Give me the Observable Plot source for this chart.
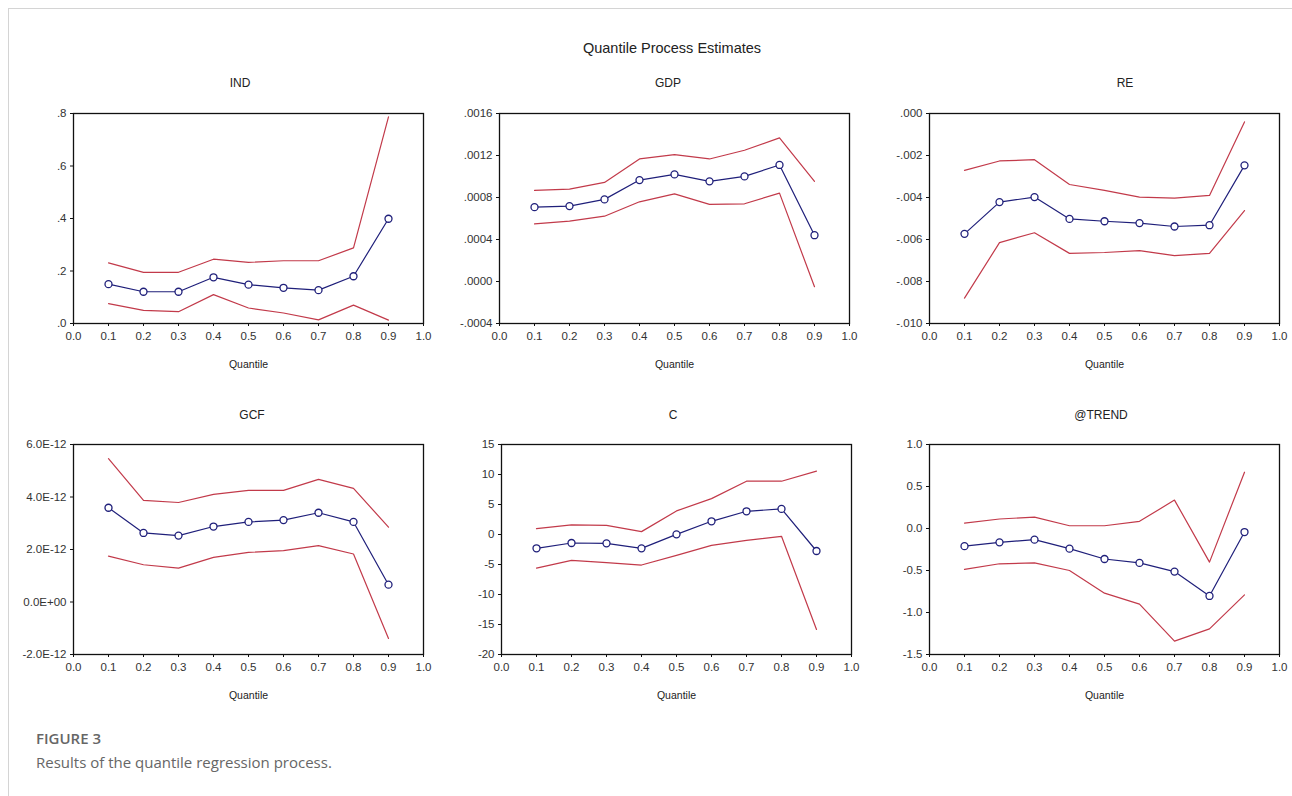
<!DOCTYPE html>
<html>
<head>
<meta charset="utf-8">
<script src="https://cdn.jsdelivr.net/npm/d3@7"></script>
<script src="https://cdn.jsdelivr.net/npm/@observablehq/plot@0.6"></script>
<style>
  html, body { margin: 0; padding: 0; background: #fff; }
  body { width: 1292px; height: 796px; overflow: hidden; position: relative; font-family: "Liberation Sans", Arial, sans-serif; }
  .bt { position: absolute; left: 8px; top: 8px; width: 1284px; height: 1px; background: #d4d4d4; }
  .bl { position: absolute; left: 8px; top: 8px; width: 1px; height: 788px; background: #d4d4d4; }
  .ttl { position: absolute; transform: translate(-50%, -50%); white-space: nowrap; color: #222;
         font-family: "Liberation Sans Narrow", "Liberation Sans", Arial, sans-serif; }
  .panel { position: absolute; }
  .cap1 { position: absolute; left: 36px; top: 728px; font-family: "Open Sans", "Noto Sans", sans-serif; font-weight: 600; font-size: 15px; color: #666; }
  .cap2 { position: absolute; left: 36px; top: 752px; font-family: "Open Sans", "Noto Sans", sans-serif; font-size: 15px; color: #666; }
</style>
</head>
<body>
<div class="bt"></div><div class="bl"></div>
<div id="root"></div>
<div class="cap1">FIGURE 3</div>
<div class="cap2">Results of the quantile regression process.</div>
<script>
// ---------- data ----------
const quantiles = [0.1, 0.2, 0.3, 0.4, 0.5, 0.6, 0.7, 0.8, 0.9];
const mainTitle = "Quantile Process Estimates";
const panelNames = ["IND", "GDP", "RE", "GCF", "C", "@TREND"];
const xLabelText = "Quantile";

const indEst   = [0.150, 0.121, 0.121, 0.176, 0.148, 0.136, 0.127, 0.180, 0.399];
const indUpper = [0.231, 0.195, 0.195, 0.245, 0.233, 0.239, 0.239, 0.288, 0.787];
const indLower = [0.076, 0.050, 0.045, 0.110, 0.059, 0.040, 0.014, 0.070, 0.013];

const gdpEst   = [0.000708, 0.000718, 0.000782, 0.000966, 0.001020, 0.000954, 0.001001, 0.001110, 0.000441];
const gdpUpper = [0.000867, 0.000880, 0.000944, 0.001167, 0.001208, 0.001167, 0.001250, 0.001368, 0.000954];
const gdpLower = [0.000549, 0.000575, 0.000622, 0.000759, 0.000835, 0.000734, 0.000740, 0.000842, -0.000050];

const reEst   = [-0.00573, -0.00422, -0.00398, -0.00502, -0.00513, -0.00522, -0.00538, -0.00532, -0.00247];
const reUpper = [-0.00271, -0.00226, -0.00220, -0.00338, -0.00366, -0.00398, -0.00403, -0.00390, -0.00040];
const reLower = [-0.00879, -0.00615, -0.00568, -0.00666, -0.00662, -0.00653, -0.00677, -0.00666, -0.00462];

const gcfEst   = [3.59e-12, 2.63e-12, 2.53e-12, 2.875e-12, 3.05e-12, 3.12e-12, 3.40e-12, 3.05e-12, 0.66e-12];
const gcfUpper = [5.46e-12, 3.87e-12, 3.79e-12, 4.10e-12, 4.25e-12, 4.25e-12, 4.67e-12, 4.33e-12, 2.85e-12];
const gcfLower = [1.75e-12, 1.42e-12, 1.29e-12, 1.70e-12, 1.89e-12, 1.96e-12, 2.15e-12, 1.83e-12, -1.39e-12];

const cEst   = [-2.30, -1.42, -1.47, -2.31, 0.03, 2.20, 3.87, 4.26, -2.75];
const cUpper = [0.98, 1.59, 1.53, 0.48, 3.93, 5.98, 8.88, 8.88, 10.55];
const cLower = [-5.59, -4.31, -4.70, -5.09, -3.48, -1.81, -0.97, -0.30, -15.83];

const trendEst   = [-0.210, -0.165, -0.133, -0.240, -0.363, -0.410, -0.513, -0.803, -0.042];
const trendUpper = [0.065, 0.113, 0.136, 0.033, 0.033, 0.085, 0.338, -0.400, 0.670];
const trendLower = [-0.486, -0.420, -0.410, -0.500, -0.770, -0.900, -1.340, -1.195, -0.790];

const xTicks = [0, 0.1, 0.2, 0.3, 0.4, 0.5, 0.6, 0.7, 0.8, 0.9, 1.0];
const xTickLabels = ["0.0", "0.1", "0.2", "0.3", "0.4", "0.5", "0.6", "0.7", "0.8", "0.9", "1.0"];

const indTicks = [0, 0.2, 0.4, 0.6, 0.8];
const indTickLabels = [".0", ".2", ".4", ".6", ".8"];
const gdpTicks = [-0.0004, 0, 0.0004, 0.0008, 0.0012, 0.0016];
const gdpTickLabels = ["-.0004", ".0000", ".0004", ".0008", ".0012", ".0016"];
const reTicks = [-0.010, -0.008, -0.006, -0.004, -0.002, 0];
const reTickLabels = ["-.010", "-.008", "-.006", "-.004", "-.002", ".000"];
const gcfTicks = [-2e-12, 0, 2e-12, 4e-12, 6e-12];
const gcfTickLabels = ["-2.0E-12", "0.0E+00", "2.0E-12", "4.0E-12", "6.0E-12"];
const cTicks = [-20, -15, -10, -5, 0, 5, 10, 15];
const cTickLabels = ["-20", "-15", "-10", "-5", "0", "5", "10", "15"];
const trendTicks = [-1.5, -1.0, -0.5, 0, 0.5, 1.0];
const trendTickLabels = ["-1.5", "-1.0", "-0.5", "0.0", "0.5", "1.0"];

// ---------- layout (positions / styles) ----------
const RED = "#c23a4a";
const NAVY = "#1f1f7a";
const layout = [
  { left: 13,  top: 103, tx: 240,  ty: 83,  qdy: 44 },
  { left: 439, top: 103, tx: 668,  ty: 83,  qdy: 44 },
  { left: 869, top: 103, tx: 1125, ty: 83,  qdy: 44 },
  { left: 13,  top: 434, tx: 252,  ty: 415, qdy: 44 },
  { left: 441, top: 434, tx: 673,  ty: 415, qdy: 44 },
  { left: 869, top: 434, tx: 1101, ty: 415, qdy: 44 }
];
const series = [
  [indEst, indUpper, indLower, indTicks, indTickLabels],
  [gdpEst, gdpUpper, gdpLower, gdpTicks, gdpTickLabels],
  [reEst, reUpper, reLower, reTicks, reTickLabels],
  [gcfEst, gcfUpper, gcfLower, gcfTicks, gcfTickLabels],
  [cEst, cUpper, cLower, cTicks, cTickLabels],
  [trendEst, trendUpper, trendLower, trendTicks, trendTickLabels]
];

const root = document.getElementById("root");
const mt = document.createElement("div");
mt.className = "ttl";
mt.style.left = "672px"; mt.style.top = "48px"; mt.style.fontSize = "14.5px";
mt.textContent = mainTitle;
root.appendChild(mt);

const xLabelMap = new Map(xTicks.map((t, i) => [t, xTickLabels[i]]));

panelNames.forEach((name, k) => {
  const [est, upper, lower, yTicks, yLabels] = series[k];
  const L = layout[k];
  const rows = quantiles.map((q, i) => ({ q, est: est[i], upper: upper[i], lower: lower[i] }));
  const yLabelMap = new Map(yTicks.map((t, i) => [t, yLabels[i]]));

  const t = document.createElement("div");
  t.className = "ttl";
  t.style.left = L.tx + "px"; t.style.top = L.ty + "px"; t.style.fontSize = "12px";
  t.textContent = name;
  root.appendChild(t);

  const chart = Plot.plot({
    width: 422,
    height: 276,
    marginLeft: 60,
    marginRight: 12,
    marginTop: 10,
    marginBottom: 56,
    style: { fontFamily: '"Liberation Sans", Arial, sans-serif', fontSize: "11.5px", color: "#333", background: "transparent", overflow: "visible" },
    x: { domain: [0, 1] },
    y: { domain: [yTicks[0], yTicks[yTicks.length - 1]] },
    marks: [
      Plot.axisX({ ticks: xTicks, tickFormat: d => xLabelMap.get(d), tickSize: 3, tickPadding: 5, label: null, stroke: "#111" }),
      Plot.axisY({ ticks: yTicks, tickFormat: d => yLabelMap.get(d), tickSize: 3, tickPadding: 4, label: null, stroke: "#111" }),
      Plot.line(rows, { x: "q", y: "upper", stroke: RED, strokeWidth: 1.2 }),
      Plot.line(rows, { x: "q", y: "lower", stroke: RED, strokeWidth: 1.2 }),
      Plot.line(rows, { x: "q", y: "est", stroke: NAVY, strokeWidth: 1.2 }),
      Plot.dot(rows, { x: "q", y: "est", r: 3.5, fill: "white", stroke: NAVY, strokeWidth: 1.3 }),
      Plot.frame({ stroke: "#111", strokeWidth: 1.3 }),
      Plot.text([xLabelText], { text: d => d, frameAnchor: "bottom", dy: L.qdy, fontSize: 10.5, fill: "#222" })
    ]
  });
  const wrap = document.createElement("div");
  wrap.className = "panel";
  wrap.style.left = L.left + "px";
  wrap.style.top = L.top + "px";
  wrap.appendChild(chart);
  root.appendChild(wrap);
});
</script>
</body>
</html>
